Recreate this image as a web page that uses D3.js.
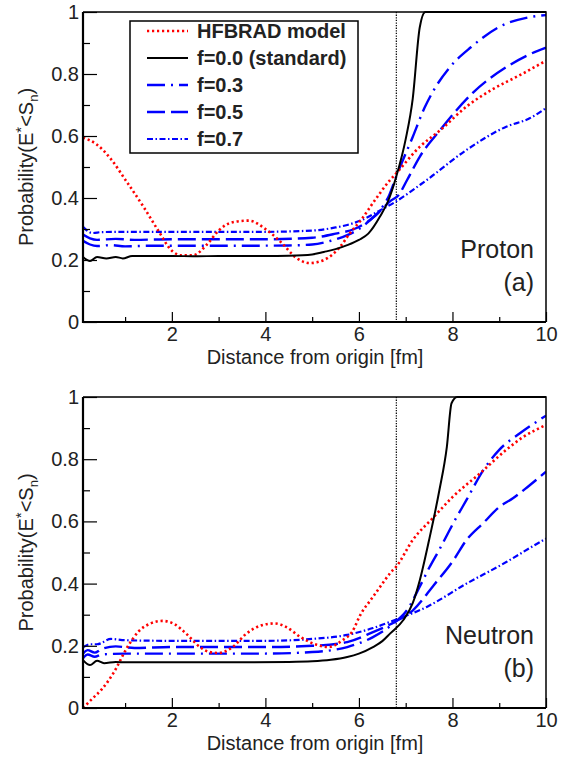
<!DOCTYPE html>
<html>
<head>
<meta charset="utf-8">
<script src="https://cdn.jsdelivr.net/npm/d3@7"></script>
<style>
  body { margin: 0; background: #fff; }
  svg { display: block; font-family: "Liberation Sans", Arial, Helvetica, sans-serif; }
  text { fill: #222; }
</style>
</head>
<body>
<svg id="chart" width="573" height="757"></svg>
<script>
// ---- data ----
const xMajorTicks = [2, 4, 6, 8, 10]
const xMinorTicks = [1, 3, 5, 7, 9]
const yMajorTicks = [0, 0.2, 0.4, 0.6, 0.8, 1]
const yTickLabels = ['0', '0.2', '0.4', '0.6', '0.8', '1']
const yMinorTicks = [0.1, 0.3, 0.5, 0.7, 0.9]
const rSeparation = 6.8

const seriesNames = ['HFBRAD model', 'f=0.0 (standard)', 'f=0.3', 'f=0.5', 'f=0.7']

// proton (a)
const pHfbX = [0.1, 0.4, 0.7, 1.0, 1.4, 1.7, 2.0, 2.2, 2.45, 2.75, 3.0, 3.3, 3.65, 4.0, 4.35, 4.65, 4.95, 5.25, 5.6, 5.8, 6.05, 6.3, 6.65, 6.8, 7.3, 7.75, 8.3, 8.85, 9.45, 10]
const pHfbY = [0.595, 0.572, 0.525, 0.46, 0.37, 0.297, 0.23, 0.215, 0.215, 0.25, 0.295, 0.322, 0.327, 0.3, 0.255, 0.208, 0.19, 0.2, 0.243, 0.285, 0.33, 0.384, 0.455, 0.48, 0.565, 0.62, 0.695, 0.75, 0.797, 0.843]
const pF00X = [0.1, 0.25, 0.4, 0.6, 0.8, 0.95, 1.15, 1.5, 2.0, 2.5, 3.0, 3.5, 4.0, 4.5, 5.0, 5.25, 5.5, 5.75, 6.0, 6.2, 6.45, 6.65, 6.8, 7.0, 7.15, 7.3, 7.42, 10]
const pF00Y = [0.21, 0.197, 0.21, 0.205, 0.21, 0.205, 0.213, 0.213, 0.213, 0.212, 0.213, 0.213, 0.213, 0.214, 0.218, 0.226, 0.235, 0.248, 0.265, 0.285, 0.34, 0.40, 0.47, 0.59, 0.72, 0.95, 1.0, 1.0]
const pF03X = [0.1, 0.25, 0.4, 0.7, 1.0, 1.5, 2.5, 3.5, 4.5, 5.0, 5.4, 5.75, 6.0, 6.25, 6.45, 6.65, 6.8, 7.15, 7.4, 7.6, 7.95, 8.4, 9.0, 9.6, 10]
const pF03Y = [0.262, 0.25, 0.245, 0.248, 0.244, 0.246, 0.246, 0.246, 0.247, 0.25, 0.262, 0.28, 0.3, 0.33, 0.36, 0.41, 0.47, 0.597, 0.69, 0.748, 0.823, 0.887, 0.952, 0.982, 0.99]
const pF05X = [0.1, 0.25, 0.4, 0.8, 1.2, 2.0, 3.0, 4.0, 5.0, 5.5, 5.9, 6.2, 6.4, 6.67, 6.85, 7.03, 7.3, 7.74, 8.44, 9.16, 9.6, 10]
const pF05Y = [0.282, 0.27, 0.265, 0.268, 0.265, 0.267, 0.267, 0.267, 0.272, 0.285, 0.3, 0.325, 0.35, 0.39, 0.41, 0.458, 0.533, 0.62, 0.74, 0.823, 0.86, 0.885]
const pF07X = [0.1, 0.3, 0.5, 1.0, 2.0, 3.0, 4.0, 5.0, 5.5, 5.75, 6.15, 6.45, 6.75, 7.45, 8.3, 9.15, 9.65, 10]
const pF07Y = [0.307, 0.287, 0.29, 0.291, 0.291, 0.291, 0.291, 0.295, 0.305, 0.313, 0.335, 0.36, 0.385, 0.458, 0.555, 0.63, 0.657, 0.69]

// neutron (b)
const nHfbX = [0.1, 0.3, 0.5, 0.75, 1.05, 1.3, 1.55, 1.8, 2.05, 2.3, 2.6, 2.8, 3.0, 3.3, 3.6, 3.9, 4.2, 4.45, 4.75, 5.1, 5.35, 5.65, 5.85, 6.05, 6.25, 6.45, 6.67, 6.8, 7.15, 7.6, 8.0, 8.6, 9.15, 9.5, 10]
const nHfbY = [0.0, 0.03, 0.06, 0.112, 0.196, 0.248, 0.272, 0.28, 0.27, 0.24, 0.196, 0.18, 0.177, 0.196, 0.24, 0.265, 0.272, 0.26, 0.228, 0.203, 0.196, 0.218, 0.244, 0.305, 0.347, 0.389, 0.434, 0.455, 0.54, 0.614, 0.678, 0.756, 0.83, 0.87, 0.91]
const nF00X = [0.1, 0.25, 0.4, 0.55, 0.8, 1.0, 1.5, 2.5, 3.5, 4.5, 5.0, 5.4, 5.75, 6.0, 6.3, 6.5, 6.67, 6.95, 7.15, 7.3, 7.5, 7.72, 7.88, 7.98, 8.1, 10]
const nF00Y = [0.154, 0.138, 0.152, 0.144, 0.148, 0.147, 0.147, 0.147, 0.147, 0.148, 0.15, 0.155, 0.164, 0.175, 0.196, 0.215, 0.24, 0.283, 0.337, 0.41, 0.54, 0.70, 0.84, 0.98, 1.0, 1.0]
const nF03X = [0.1, 0.2, 0.35, 0.5, 1.0, 2.0, 3.0, 4.0, 5.0, 5.75, 6.3, 6.75, 7.03, 7.3, 7.5, 7.74, 8.02, 8.3, 8.66, 9.0, 9.45, 10]
const nF03Y = [0.16, 0.172, 0.165, 0.172, 0.175, 0.175, 0.175, 0.175, 0.18, 0.196, 0.228, 0.273, 0.315, 0.39, 0.45, 0.515, 0.595, 0.669, 0.765, 0.83, 0.884, 0.94]
const nF05X = [0.1, 0.2, 0.35, 0.5, 0.8, 1.2, 2.0, 3.0, 4.0, 5.0, 5.75, 6.3, 6.77, 7.16, 7.6, 8.02, 8.3, 8.66, 9.0, 9.3, 9.6, 10]
const nF05Y = [0.175, 0.186, 0.178, 0.19, 0.198, 0.193, 0.196, 0.196, 0.196, 0.2, 0.212, 0.244, 0.277, 0.315, 0.395, 0.475, 0.54, 0.595, 0.646, 0.675, 0.71, 0.76]
const nF07X = [0.1, 0.25, 0.4, 0.7, 1.0, 2.0, 3.0, 4.0, 5.0, 5.75, 6.3, 6.77, 7.45, 8.3, 9.16, 9.66, 10]
const nF07Y = [0.195, 0.205, 0.205, 0.222, 0.218, 0.216, 0.216, 0.216, 0.222, 0.235, 0.257, 0.283, 0.325, 0.40, 0.47, 0.515, 0.545]

// ---- styles ----
const styles = [
  { color: '#ff0000', width: 2.6, dash: '2.2 2.8' },
  { color: '#000000', width: 2, dash: null },
  { color: '#0000ff', width: 2.4, dash: '18 6 2 6' },
  { color: '#0000ff', width: 2.4, dash: '18 6' },
  { color: '#0000ff', width: 2.2, dash: '6 2.5 1.5 2.5' }
]

const svg = d3.select('#chart')
const x = d3.scaleLinear().domain([0.1, 10]).range([83, 546])

const zip = (xs, ys) => xs.map((d, i) => ({ x: d, y: ys[i] }))

function drawPanel (top, bottom, series, name, tag, withLegend, id) {
  const y = d3.scaleLinear().domain([0, 1]).range([bottom, top])
  const g = svg.append('g')

  g.append('clipPath').attr('id', 'clip' + id)
    .append('rect')
    .attr('x', x.range()[0]).attr('y', top - 2)
    .attr('width', x.range()[1] - x.range()[0]).attr('height', bottom - top + 2)

  // vertical dotted line
  g.append('line')
    .attr('x1', x(rSeparation)).attr('x2', x(rSeparation))
    .attr('y1', top).attr('y2', bottom)
    .attr('stroke', '#000').attr('stroke-width', 1.2)
    .attr('stroke-dasharray', '1.3 1.3')

  const line = d3.line()
    .x(d => x(d.x))
    .y(d => y(d.y))
    .curve(d3.curveMonotoneX)

  const curves = g.append('g').attr('clip-path', 'url(#clip' + id + ')')
  // draw blue first, then red, black on top
  const order = [4, 3, 2, 0, 1]
  order.forEach(i => {
    curves.append('path')
      .datum(series[i])
      .attr('d', line)
      .attr('fill', 'none')
      .attr('stroke', styles[i].color)
      .attr('stroke-width', styles[i].width)
      .attr('stroke-dasharray', styles[i].dash)
      .attr('stroke-linejoin', 'round')
  })

  // axes
  const yAxis = d3.axisLeft(y)
    .tickValues(yMajorTicks)
    .tickSize(-14)
    .tickPadding(4)
    .tickFormat((d, i) => yTickLabels[i])
  const ya = g.append('g').attr('transform', `translate(${x.range()[0]},0)`).call(yAxis)
  const yMinor = d3.axisLeft(y).tickValues(yMinorTicks).tickSize(-7).tickFormat('')
  const ym = g.append('g').attr('transform', `translate(${x.range()[0]},0)`).call(yMinor)

  const xAxis = d3.axisBottom(x)
    .tickValues(xMajorTicks)
    .tickSize(-10)
    .tickPadding(5)
    .tickFormat(d3.format('d'))
  const xa = g.append('g').attr('transform', `translate(0,${bottom})`).call(xAxis)
  const xMinor = d3.axisBottom(x).tickValues(xMinorTicks).tickSize(-5).tickFormat('')
  const xm = g.append('g').attr('transform', `translate(0,${bottom})`).call(xMinor)

  ;[ya, ym, xa, xm].forEach(a => {
    a.select('.domain').remove()
    a.selectAll('.tick line').attr('stroke', '#000').attr('stroke-width', 1.2)
    a.selectAll('.tick text')
      .attr('font-size', 20)
      .attr('font-family', '"Liberation Sans", Arial, sans-serif')
      .attr('fill', '#222')
  })
  xa.selectAll('.tick text').attr('dy', '0.72em')

  // frame
  g.append('path')
    .attr('d', `M${x.range()[0]},${top}H${x.range()[1]}V${bottom}`)
    .attr('fill', 'none').attr('stroke', '#000').attr('stroke-width', 1.5)
  g.append('path')
    .attr('d', `M${x.range()[0]},${top}V${bottom}H${x.range()[1]}`)
    .attr('fill', 'none').attr('stroke', '#000').attr('stroke-width', 2.2)

  // axis titles
  g.append('text')
    .attr('x', 315).attr('y', bottom + 42)
    .attr('text-anchor', 'middle')
    .attr('font-size', 20)
    .text('Distance from origin [fm]')

  const yt = g.append('text')
    .attr('transform', `translate(33,${(top + bottom) / 2}) rotate(-90)`)
    .attr('text-anchor', 'middle')
    .attr('font-size', 20)
  yt.append('tspan').text('Probability(E')
  yt.append('tspan').attr('dy', -7).attr('font-size', 15).text('*')
  yt.append('tspan').attr('dy', 7).text('<S')
  yt.append('tspan').attr('dy', 5).attr('font-size', 13).text('n')
  yt.append('tspan').attr('dy', -5).text(')')

  // panel labels
  g.append('text')
    .attr('x', 534).attr('y', bottom - 64)
    .attr('text-anchor', 'end').attr('font-size', 25)
    .text(name)
  g.append('text')
    .attr('x', 534).attr('y', bottom - 31)
    .attr('text-anchor', 'end').attr('font-size', 25)
    .text(tag)

  if (withLegend) {
    const lg = g.append('g')
    lg.append('rect')
      .attr('x', 130).attr('y', 21)
      .attr('width', 228).attr('height', 132)
      .attr('fill', '#fff').attr('stroke', '#000').attr('stroke-width', 1.5)
    const rowY = d3.scalePoint().domain(seriesNames).range([31, 139])
    seriesNames.forEach((s, i) => {
      lg.append('line')
        .attr('x1', 147).attr('x2', 188)
        .attr('y1', rowY(s)).attr('y2', rowY(s))
        .attr('stroke', styles[i].color)
        .attr('stroke-width', styles[i].width)
        .attr('stroke-dasharray', styles[i].dash)
      lg.append('text')
        .attr('x', 197).attr('y', rowY(s))
        .attr('dy', '0.36em')
        .attr('font-size', 20).attr('font-weight', 'bold')
        .text(s)
    })
  }
}

drawPanel(12, 322, [zip(pHfbX, pHfbY), zip(pF00X, pF00Y), zip(pF03X, pF03Y), zip(pF05X, pF05Y), zip(pF07X, pF07Y)], 'Proton', '(a)', true, 'a')
drawPanel(397, 708, [zip(nHfbX, nHfbY), zip(nF00X, nF00Y), zip(nF03X, nF03Y), zip(nF05X, nF05Y), zip(nF07X, nF07Y)], 'Neutron', '(b)', false, 'b')
</script>
</body>
</html>
